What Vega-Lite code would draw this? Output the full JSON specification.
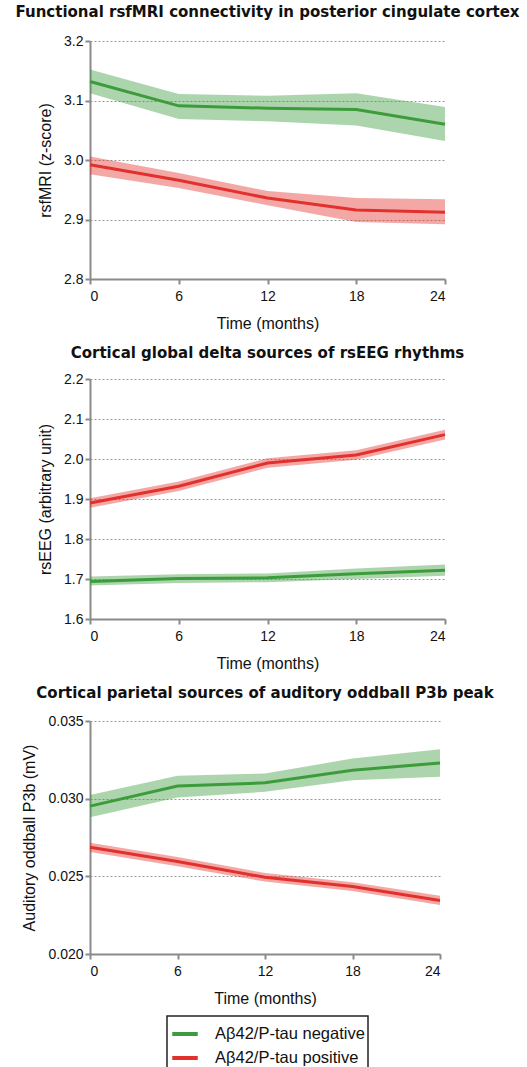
{
  "$schema": "https://vega.github.io/schema/vega-lite/v6.json",
  "background": "white",
  "padding": {"left": 15, "top": 5, "right": 18, "bottom": 0},
  "datasets": {
    "mri": [
      {"group": "Aβ42/P-tau negative", "time": 0, "mean": 3.132, "lo": 3.112, "hi": 3.152},
      {"group": "Aβ42/P-tau negative", "time": 6, "mean": 3.091, "lo": 3.069, "hi": 3.111},
      {"group": "Aβ42/P-tau negative", "time": 12, "mean": 3.087, "lo": 3.065, "hi": 3.108},
      {"group": "Aβ42/P-tau negative", "time": 18, "mean": 3.085, "lo": 3.058, "hi": 3.112},
      {"group": "Aβ42/P-tau negative", "time": 24, "mean": 3.060, "lo": 3.032, "hi": 3.089},
      {"group": "Aβ42/P-tau positive", "time": 0, "mean": 2.992, "lo": 2.976, "hi": 3.006},
      {"group": "Aβ42/P-tau positive", "time": 6, "mean": 2.966, "lo": 2.953, "hi": 2.978},
      {"group": "Aβ42/P-tau positive", "time": 12, "mean": 2.936, "lo": 2.924, "hi": 2.948},
      {"group": "Aβ42/P-tau positive", "time": 18, "mean": 2.916, "lo": 2.896, "hi": 2.936},
      {"group": "Aβ42/P-tau positive", "time": 24, "mean": 2.912, "lo": 2.892, "hi": 2.934}
    ],
    "eeg": [
      {"group": "Aβ42/P-tau negative", "time": 0, "mean": 1.694, "lo": 1.684, "hi": 1.706},
      {"group": "Aβ42/P-tau negative", "time": 6, "mean": 1.701, "lo": 1.690, "hi": 1.712},
      {"group": "Aβ42/P-tau negative", "time": 12, "mean": 1.703, "lo": 1.692, "hi": 1.714},
      {"group": "Aβ42/P-tau negative", "time": 18, "mean": 1.713, "lo": 1.700, "hi": 1.726},
      {"group": "Aβ42/P-tau negative", "time": 24, "mean": 1.722, "lo": 1.708, "hi": 1.736},
      {"group": "Aβ42/P-tau positive", "time": 0, "mean": 1.890, "lo": 1.878, "hi": 1.902},
      {"group": "Aβ42/P-tau positive", "time": 6, "mean": 1.932, "lo": 1.920, "hi": 1.944},
      {"group": "Aβ42/P-tau positive", "time": 12, "mean": 1.990, "lo": 1.978, "hi": 2.002},
      {"group": "Aβ42/P-tau positive", "time": 18, "mean": 2.010, "lo": 1.998, "hi": 2.022},
      {"group": "Aβ42/P-tau positive", "time": 24, "mean": 2.061, "lo": 2.049, "hi": 2.073}
    ],
    "p3b": [
      {"group": "Aβ42/P-tau negative", "time": 0, "mean": 0.02952, "lo": 0.02880, "hi": 0.03023},
      {"group": "Aβ42/P-tau negative", "time": 6, "mean": 0.03081, "lo": 0.03008, "hi": 0.03147},
      {"group": "Aβ42/P-tau negative", "time": 12, "mean": 0.03102, "lo": 0.03044, "hi": 0.03162},
      {"group": "Aβ42/P-tau negative", "time": 18, "mean": 0.03183, "lo": 0.03119, "hi": 0.03258},
      {"group": "Aβ42/P-tau negative", "time": 24, "mean": 0.03230, "lo": 0.03141, "hi": 0.03318},
      {"group": "Aβ42/P-tau positive", "time": 0, "mean": 0.02687, "lo": 0.02657, "hi": 0.02717},
      {"group": "Aβ42/P-tau positive", "time": 6, "mean": 0.02595, "lo": 0.02565, "hi": 0.02625},
      {"group": "Aβ42/P-tau positive", "time": 12, "mean": 0.02494, "lo": 0.02466, "hi": 0.02522},
      {"group": "Aβ42/P-tau positive", "time": 18, "mean": 0.02434, "lo": 0.02406, "hi": 0.02462},
      {"group": "Aβ42/P-tau positive", "time": 24, "mean": 0.02345, "lo": 0.02315, "hi": 0.02375}
    ]
  },
  "spacing": 15,
  "resolve": {"scale": {"color": "shared", "fill": "shared"}, "legend": {"color": "shared"}},
  "vconcat": [
    {
      "title": {"text": "Functional rsfMRI connectivity in posterior cingulate cortex", "offset": 14},
      "width": 355, "height": 238,
      "data": {"name": "mri"},
      "encoding": {
        "x": {"field": "time", "type": "quantitative", "scale": {"domain": [0, 24], "nice": false}, "axis": {"values": [0, 6, 12, 18, 24], "title": "Time (months)"}}
      },
      "layer": [
        {"mark": {"type": "area", "opacity": 0.42},
         "encoding": {
           "y": {"field": "lo", "type": "quantitative", "scale": {"domain": [2.8, 3.2], "nice": false, "zero": false}, "axis": {"values": [2.8, 2.9, 3.0, 3.1, 3.2], "tickCount": 10, "format": ".1f", "title": "rsfMRI (z-score)"}},
           "y2": {"field": "hi"},
           "fill": {"field": "group", "type": "nominal", "scale": {"domain": ["Aβ42/P-tau positive", "Aβ42/P-tau negative"], "range": ["#e2302c", "#3c9c3c"]}, "legend": null}
         }},
        {"mark": {"type": "line", "strokeWidth": 3},
         "encoding": {
           "y": {"field": "mean", "type": "quantitative"},
           "color": {"field": "group", "type": "nominal", "scale": {"domain": ["Aβ42/P-tau negative", "Aβ42/P-tau positive"], "range": ["#3c9c3c", "#e2302c"]}, "legend": {"title": null}}
         }}
      ]
    },
    {
      "title": "Cortical global delta sources of rsEEG rhythms",
      "width": 355, "height": 240,
      "data": {"name": "eeg"},
      "encoding": {
        "x": {"field": "time", "type": "quantitative", "scale": {"domain": [0, 24], "nice": false}, "axis": {"values": [0, 6, 12, 18, 24], "title": "Time (months)"}}
      },
      "layer": [
        {"mark": {"type": "area", "opacity": 0.42},
         "encoding": {
           "y": {"field": "lo", "type": "quantitative", "scale": {"domain": [1.6, 2.2], "nice": false, "zero": false}, "axis": {"values": [1.6, 1.7, 1.8, 1.9, 2.0, 2.1, 2.2], "tickCount": 12, "format": ".1f", "title": "rsEEG (arbitrary unit)"}},
           "y2": {"field": "hi"},
           "fill": {"field": "group", "type": "nominal", "legend": null}
         }},
        {"mark": {"type": "line", "strokeWidth": 3},
         "encoding": {
           "y": {"field": "mean", "type": "quantitative"},
           "color": {"field": "group", "type": "nominal", "legend": {"title": null}}
         }}
      ]
    },
    {
      "title": {"text": "Cortical parietal sources of auditory oddball P3b peak", "offset": 13},
      "width": 350, "height": 233,
      "data": {"name": "p3b"},
      "encoding": {
        "x": {"field": "time", "type": "quantitative", "scale": {"domain": [0, 24], "nice": false}, "axis": {"values": [0, 6, 12, 18, 24], "title": "Time (months)"}}
      },
      "layer": [
        {"mark": {"type": "area", "opacity": 0.42},
         "encoding": {
           "y": {"field": "lo", "type": "quantitative", "scale": {"domain": [0.02, 0.035], "nice": false, "zero": false}, "axis": {"values": [0.02, 0.025, 0.03, 0.035], "tickCount": 10, "format": ".3f", "title": "Auditory oddball P3b (mV)"}},
           "y2": {"field": "hi"},
           "fill": {"field": "group", "type": "nominal", "legend": null}
         }},
        {"mark": {"type": "line", "strokeWidth": 3},
         "encoding": {
           "y": {"field": "mean", "type": "quantitative"},
           "color": {"field": "group", "type": "nominal", "legend": {"title": null}}
         }}
      ]
    }
  ],
  "config": {
    "view": {"stroke": null},
    "font": "Liberation Sans",
    "axis": {
      "domainColor": "#8a8a8a", "domainWidth": 2,
      "tickColor": "#8a8a8a", "tickWidth": 2, "tickSize": 5,
      "labelFont": "Liberation Sans", "labelFontSize": 14, "labelColor": "#111",
      "titleFont": "Liberation Sans", "titleFontSize": 16, "titleFontWeight": "normal", "titleColor": "#111"
    },
    "axisY": {"grid": true, "gridColor": "#999", "gridDash": [2, 2], "gridWidth": 1.2, "labelPadding": 2, "titlePadding": 10},
    "axisX": {"grid": false, "labelPadding": 5, "titlePadding": 12},
    "title": {"font": "DejaVu Sans", "fontSize": 15, "fontWeight": "bold", "color": "#111", "frame": "group", "anchor": "middle", "offset": 11},
    "legend": {
      "orient": "bottom", "direction": "vertical",
      "layout": {"bottom": {"anchor": "middle"}},
      "strokeColor": "#222", "strokeWidth": 1.5, "padding": 3,
      "labelFont": "Liberation Sans", "labelFontSize": 16.5, "labelColor": "#111",
      "symbolType": "stroke", "symbolStrokeWidth": 4, "symbolSize": 650,
      "rowPadding": 0, "labelOffset": 15, "offset": 10
    }
  }
}
